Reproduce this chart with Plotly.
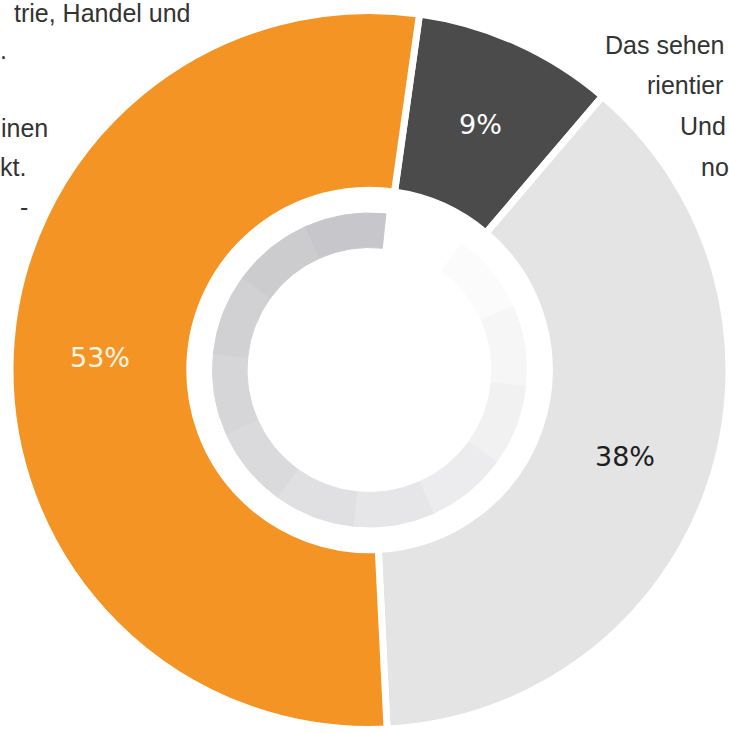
import math
import plotly.graph_objects as go

# --- data ---
segments = ["Segment A", "Segment B", "Segment C"]
shares = [9, 38, 53]
slice_colors = ["#4b4b4b", "#e4e4e4", "#f39424"]
label_colors = ["#ffffff", "#1e1e1e", "#fff4e4"]

# decorative inner ring (style only), clockwise from just right of 12 o'clock
ring_parts = [30] * 12
ring_colors = ["#ffffff", "#fbfbfb", "#f6f6f7", "#f1f1f2", "#ececee", "#e6e6e8",
               "#e0e0e2", "#dadadc", "#d6d6d9", "#d1d1d4", "#cccccf", "#c7c7cb"]

left_lines = ["trie, Handel und", ".", "inen", "kt.", "-"]
right_lines = ["Das sehen", "rientier", "Und", "no"]

W, H = 729, 733
start_deg = 8
hole_frac = 0.5
x0_px, x1_px = 10, 729          # horizontal extent of the main pie domain
cy = 370
R = (x1_px - x0_px) / 2
cx = (x0_px + x1_px) / 2
r_ring = 157

fig = go.Figure()

fig.add_trace(go.Pie(
    labels=segments, values=shares, sort=False, direction="clockwise",
    rotation=start_deg, hole=hole_frac,
    marker=dict(colors=slice_colors, line=dict(color="#ffffff", width=7)),
    textinfo="none",
    domain=dict(x=[x0_px / W, x1_px / W],
                y=[max(0.0, (H - cy - R) / H), min(1.0, (H - cy + R) / H)]),
    hoverinfo="skip", showlegend=False,
))

fig.add_trace(go.Pie(
    values=ring_parts, sort=False, direction="clockwise",
    rotation=6, hole=0.78,
    marker=dict(colors=ring_colors, line=dict(color=ring_colors, width=1)),
    textinfo="none",
    domain=dict(x=[(cx - r_ring) / W, (cx + r_ring) / W],
                y=[(H - cy - r_ring) / H, (H - cy + r_ring) / H]),
    hoverinfo="skip", showlegend=False,
))

# percentage labels at the middle of each slice (angle from the shares)
total = sum(shares)
acc = 0
r_lab = R * (1 + hole_frac) / 2
for v, col in zip(shares, label_colors):
    mid = math.radians(start_deg + 360 * (acc + v / 2) / total)
    acc += v
    px = cx + r_lab * math.sin(mid)
    py = cy - r_lab * math.cos(mid)
    fig.add_annotation(text=f"{v}%", x=px / W, y=1 - py / H, xref="paper", yref="paper",
                       xanchor="center", yanchor="middle", showarrow=False,
                       font=dict(family="DejaVu Sans", size=27, color=col))

txt_font = dict(family="Liberation Sans", size=25, color="#333333")
left_y = [13, 50, 128, 167, 207]
left_x = [193, 9, 50, 28, 30]
for t, x, y in zip(left_lines, left_x, left_y):
    fig.add_annotation(text=t, x=x / W, y=1 - y / H, xref="paper", yref="paper",
                       xanchor="left" if False else "right", yanchor="middle",
                       showarrow=False, font=txt_font)
right_y = [45, 85, 126, 167]
right_x = [603, 645, 678, 699]
for t, x, y in zip(right_lines, right_x, right_y):
    fig.add_annotation(text=t, x=x / W, y=1 - y / H, xref="paper", yref="paper",
                       xanchor="left", yanchor="middle", showarrow=False, font=txt_font)

fig.update_layout(width=W, height=H, margin=dict(l=0, r=0, t=0, b=0),
                  paper_bgcolor="#ffffff", plot_bgcolor="#ffffff")

fig.write_html("out.html", config={"displayModeBar": False}, post_script=(
    "document.body.style.margin='0';"
    "document.body.style.overflow='hidden';"
    "document.documentElement.style.overflow='hidden';"))
